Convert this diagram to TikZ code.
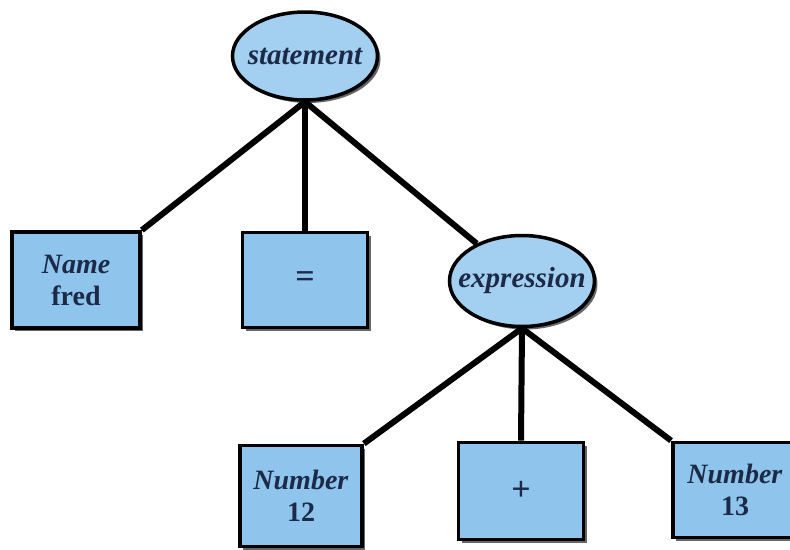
\documentclass[tikz,border=0pt]{standalone}
\usepackage{fontspec}
\setmainfont{Liberation Serif}
\usetikzlibrary{shapes.geometric,shadows,backgrounds}
\definecolor{boxblue}{HTML}{8FC4EC}
\definecolor{ovalblue}{HTML}{A3CFF0}
\definecolor{inkblue}{HTML}{1B2A47}
\tikzset{
  shad/.style={drop shadow={shadow xshift=3pt,shadow yshift=-3pt,opacity=0.6,fill=black}},
  oval/.style={ellipse,draw=black,line width=3.5pt,fill=ovalblue,shad,inner sep=0pt},
  lbl/.style={text=inkblue,font=\fontsize{29}{32}\selectfont\bfseries\itshape,inner sep=0pt},
  leaf/.style={rectangle,draw=black,line width=3.8pt,fill=boxblue,shad,text=inkblue,
    font=\fontsize{28}{32}\selectfont\bfseries,align=center,inner sep=0pt},
  sym/.style={font=\fontsize{34}{36}\selectfont\bfseries},
  edge/.style={line width=6pt,draw=black}
}
\begin{document}
\begin{tikzpicture}[x=1pt,y=-1pt]
\useasboundingbox (0,0) rectangle (790,549);
\node[oval,minimum width=145pt,minimum height=88pt,label={[lbl]center:statement}] (st) at (305,56) {};
\node[oval,minimum width=145pt,minimum height=91pt,label={[lbl]center:expression}] (ex) at (522,281) {};
\node[leaf,minimum width=128pt,minimum height=96pt] (name) at (76,280) {\textit{Name}\\fred};
\node[leaf,sym,minimum width=125pt,minimum height=95pt] (eq) at (305,280) {=};
\node[leaf,minimum width=122pt,minimum height=101pt] (n12) at (301,496) {\textit{Number}\\12};
\node[leaf,sym,minimum width=125pt,minimum height=97pt] (plus) at (521,491) {+};
\node[leaf,minimum width=124pt,minimum height=95pt] (n13) at (735,490) {\textit{Number}\\13};
\begin{pgfonlayer}{background}
\draw[edge] (st.south) -- (name.north east);
\draw[edge] (st.south) -- (eq.north);
\draw[edge] (st.south) -- (ex);
\draw[edge] (ex.south) -- (n12.north east);
\draw[edge] (ex.south) -- (plus.north);
\draw[edge] (ex.south) -- (n13.north west);
\end{pgfonlayer}
\end{tikzpicture}
\end{document}
